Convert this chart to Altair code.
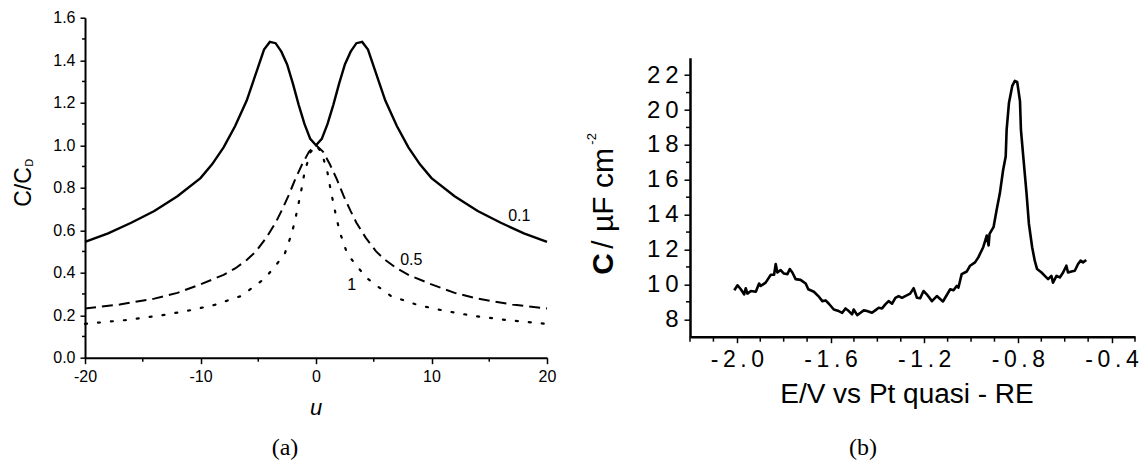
import altair as alt
import pandas as pd

FONT = "Liberation Sans"

# ---------------- panel (a): C/C_D versus u ----------------
u_01 = [-20, -18, -16, -14, -12, -10, -9, -8, -7, -6, -5.5, -5, -4.5, -4, -3.5, -3, -2.5, -2, -1.5, -1, -0.5, 0,
        0.5, 1, 1.5, 2, 2.5, 3, 3.5, 4, 4.5, 5, 5.5, 6, 7, 8, 9, 10, 12, 14, 16, 18, 20]
c_01 = [0.545, 0.585, 0.635, 0.69, 0.76, 0.845, 0.91, 0.99, 1.09, 1.21, 1.29, 1.37, 1.45, 1.486, 1.48, 1.44, 1.38,
        1.29, 1.19, 1.10, 1.03, 1.0,
        1.03, 1.10, 1.19, 1.29, 1.38, 1.44, 1.48, 1.486, 1.45, 1.37, 1.29, 1.21, 1.09, 0.99, 0.91, 0.845, 0.76, 0.69,
        0.635, 0.585, 0.545]

u_05 = [-20, -17, -14, -12, -10, -8, -7, -6, -5.2, -4.3, -3.5, -3, -2.4, -1.8, -1.2, -0.6, 0,
        0.6, 1.2, 1.8, 2.4, 3, 3.5, 4.3, 5.2, 6, 7, 8, 10, 12, 14, 17, 20]
c_05 = [0.232, 0.25, 0.278, 0.305, 0.345, 0.39, 0.42, 0.46, 0.50, 0.565, 0.635, 0.69, 0.76, 0.84, 0.91, 0.97, 1.0,
        0.97, 0.91, 0.84, 0.76, 0.69, 0.635, 0.565, 0.50, 0.46, 0.42, 0.39, 0.345, 0.305, 0.278, 0.25, 0.232]

u_1 = [-20, -16.5, -13.5, -11, -8.8, -6.5, -5.1, -4.4, -3.4, -2.7, -2.1, -1.8, -1.3, -1, -0.5, 0,
       0.5, 1, 1.3, 1.8, 2.1, 2.7, 3.4, 4.4, 5.1, 6.5, 8.8, 11, 13.5, 16.5, 20]
c_1 = [0.159, 0.177, 0.198, 0.222, 0.248, 0.29, 0.345, 0.375, 0.44, 0.49, 0.585, 0.65, 0.78, 0.87, 0.965, 1.0,
       0.965, 0.87, 0.78, 0.65, 0.585, 0.49, 0.44, 0.375, 0.345, 0.29, 0.248, 0.222, 0.198, 0.177, 0.159]

curve_labels = ["0.1", "0.5", "1"]
label_u = [17.6, 8.25, 3.1]
label_c = [0.667, 0.46, 0.342]

x_major_a = [-20, -10, 0, 10, 20]
x_minor_a = [-15, -5, 5, 15]
y_major_a = [0.0, 0.2, 0.4, 0.6, 0.8, 1.0, 1.2, 1.4, 1.6]
y_minor_a = [0.1, 0.3, 0.5, 0.7, 0.9, 1.1, 1.3, 1.5]

# ---------------- panel (b): measured capacitance ----------------
E = [-2.011, -1.997, -1.983, -1.969, -1.962, -1.955, -1.940, -1.919, -1.905, -1.898, -1.877, -1.855, -1.841,
     -1.834, -1.827, -1.813, -1.799, -1.784, -1.774, -1.763, -1.749, -1.728, -1.706, -1.695, -1.671, -1.652,
     -1.635, -1.621, -1.607, -1.586, -1.565, -1.550, -1.536, -1.522, -1.508, -1.501, -1.486, -1.472, -1.458,
     -1.444, -1.423, -1.409, -1.394, -1.380, -1.366, -1.352, -1.337, -1.323, -1.309, -1.295, -1.281, -1.260,
     -1.245, -1.231, -1.217, -1.203, -1.189, -1.167, -1.146, -1.120, -1.089, -1.075, -1.061, -1.054, -1.040,
     -1.018, -1.004, -0.983, -0.969, -0.948, -0.933, -0.925, -0.921, -0.904, -0.891, -0.877, -0.863, -0.852,
     -0.848, -0.838, -0.824, -0.813, -0.803, -0.791, -0.787, -0.777, -0.763, -0.753, -0.739, -0.728, -0.718,
     -0.699, -0.685, -0.671, -0.657, -0.650, -0.635, -0.621, -0.607, -0.593, -0.586, -0.571, -0.557, -0.543,
     -0.532, -0.522, -0.508]
C = [9.66, 9.95, 9.72, 9.43, 9.78, 9.47, 9.62, 9.58, 10.05, 9.91, 10.10, 10.55, 10.55,
     11.17, 10.68, 10.82, 10.62, 10.59, 10.88, 10.68, 10.30, 10.26, 10.05, 9.72, 9.58, 9.33,
     9.04, 9.08, 8.89, 8.56, 8.47, 8.37, 8.62, 8.47, 8.28, 8.56, 8.24, 8.37, 8.51,
     8.47, 8.37, 8.51, 8.66, 8.62, 8.85, 9.04, 8.89, 9.23, 9.33, 9.23, 9.33, 9.47,
     9.78, 9.23, 9.20, 9.62, 9.43, 9.04, 9.33, 9.02, 9.72, 9.66, 9.91, 9.81, 10.59,
     10.74, 11.07, 11.26, 11.55, 12.13, 12.80, 12.23, 12.90, 13.28, 14.25, 15.22, 16.56, 17.33,
     18.88, 20.42, 21.38, 21.67, 21.61, 20.51, 18.88, 17.33, 15.22, 13.48, 12.13, 11.36, 10.88,
     10.68, 10.49, 10.30, 10.49, 10.10, 10.49, 10.40, 10.68, 11.07, 10.68, 10.74, 10.78, 11.17,
     11.36, 11.26, 11.40]

x_major_b = [-2.0, -1.6, -1.2, -0.8, -0.4]
x_minor_b = [-2.2, -2.1, -1.9, -1.8, -1.7, -1.5, -1.4, -1.3, -1.1, -1.0, -0.9, -0.7, -0.6, -0.5, -0.3]
y_major_b = [8, 10, 12, 14, 16, 18, 20, 22]
y_minor_b = [9, 11, 13, 15, 17, 19, 21]

# ---------------- build tables ----------------
rows = []
for name, us, cs in (("0.1", u_01, c_01), ("0.5", u_05, c_05), ("1", u_1, c_1)):
    for i, (u, c) in enumerate(zip(us, cs)):
        rows.append({"s": name, "i": i, "u": u, "c": c})
df_a = pd.DataFrame(rows)
df_lab = pd.DataFrame({"t": curve_labels, "u": label_u, "c": label_c})
df_b = pd.DataFrame({"i": list(range(len(E))), "E": E, "C": C})
one = pd.DataFrame({"z": [0]})

LW, LH = 462, 340
RW, RH = 445, 279

MINUS = "\u2212"
THIN = "\u2009"


def lab_expr(fmt, spaced=False):
    base = f"replace(format(datum.value,'{fmt}'),'{MINUS}','-')"
    if spaced:
        return f"join(split({base},''),'{THIN}')"
    return base


def text_at(txt, x, y, size, **kw):
    return alt.Chart(one).mark_text(text=txt, font=kw.pop("font", FONT), fontSize=size, color="black",
                                    baseline="alphabetic", **kw).encode(x=alt.value(x), y=alt.value(y))


# ---------------- panel (a) ----------------
xs_a = alt.Scale(domain=[-20, 20], nice=False, zero=False)
ys_a = alt.Scale(domain=[0, 1.6], nice=False)

ax_x_a = alt.Axis(values=x_major_a, labelExpr=lab_expr("d"), title=None, tickSize=6, tickWidth=1.5,
                  domainWidth=2, labelFontSize=16, labelFont=FONT, labelPadding=5, grid=False,
                  labelFlush=False, labelOverlap=False)
ax_y_a = alt.Axis(values=y_major_a, labelExpr=lab_expr(".1f"), title=None, tickSize=5, tickWidth=1.5,
                  domainWidth=2, labelFontSize=16, labelFont=FONT, labelPadding=5, grid=False,
                  labelFlush=False, labelOverlap=False)


def curve(name, **kw):
    return alt.Chart(df_a).transform_filter(alt.datum.s == name).mark_line(
        color="black", **kw).encode(
        x=alt.X("u:Q", scale=xs_a, axis=ax_x_a),
        y=alt.Y("c:Q", scale=ys_a, axis=ax_y_a),
        order="i:Q")


minor_xa = alt.Chart(pd.DataFrame({"v": x_minor_a})).mark_rule(color="black", strokeWidth=1.5).encode(
    x=alt.X("v:Q", scale=xs_a, axis=ax_x_a), y=alt.value(LH), y2=alt.value(LH + 4))
minor_ya = alt.Chart(pd.DataFrame({"v": y_minor_a})).mark_rule(color="black", strokeWidth=1.5).encode(
    y=alt.Y("v:Q", scale=ys_a, axis=ax_y_a), x=alt.value(0), x2=alt.value(-3))

labels_a = alt.Chart(df_lab).mark_text(font=FONT, fontSize=16, color="black").encode(
    x=alt.X("u:Q", scale=xs_a, axis=ax_x_a), y=alt.Y("c:Q", scale=ys_a, axis=ax_y_a), text="t:N")

left = alt.layer(
    curve("0.1", strokeWidth=2.4),
    curve("0.5", strokeWidth=2, strokeDash=[11, 6]),
    curve("1", strokeWidth=2.2, strokeDash=[2, 11], strokeCap="round"),
    minor_xa, minor_ya, labels_a,
    text_at("C/C", -53.7, 169.3, 23, angle=270, align="center"),
    text_at("D", -51.7, 149.0, 11, angle=270, align="left"),
    text_at("u", 231, 397, 22, fontStyle="italic", align="center"),
    text_at("(a)", 200, 437, 24, font="Liberation Serif", align="center"),
).properties(width=LW, height=LH)

# ---------------- panel (b) ----------------
xs_b = alt.Scale(domain=[-2.2, -0.3], nice=False, zero=False)
ys_b = alt.Scale(domain=[7, 23], nice=False, zero=False)

ax_x_b = alt.Axis(values=x_major_b, labelExpr=lab_expr(".1f", True), title=None, tickSize=6, tickWidth=1.5,
                  domainWidth=2.5, labelFontSize=23, labelFont=FONT, labelPadding=6, grid=False,
                  labelFlush=False, labelOverlap=False)
ax_y_b = alt.Axis(values=y_major_b, labelExpr=lab_expr("d", True), title=None, tickSize=6, tickWidth=1.5,
                  domainWidth=2.5, labelFontSize=24, labelFont=FONT, labelPadding=6, grid=False,
                  labelFlush=False, labelOverlap=False)

line_b = alt.Chart(df_b).mark_line(color="black", strokeWidth=2.6, strokeJoin="round").encode(
    x=alt.X("E:Q", scale=xs_b, axis=ax_x_b),
    y=alt.Y("C:Q", scale=ys_b, axis=ax_y_b),
    order="i:Q")
minor_xb = alt.Chart(pd.DataFrame({"v": x_minor_b})).mark_rule(color="black", strokeWidth=1.5).encode(
    x=alt.X("v:Q", scale=xs_b, axis=ax_x_b), y=alt.value(RH), y2=alt.value(RH + 5))
minor_yb = alt.Chart(pd.DataFrame({"v": y_minor_b})).mark_rule(color="black", strokeWidth=1.5).encode(
    y=alt.Y("v:Q", scale=ys_b, axis=ax_y_b), x=alt.value(0), x2=alt.value(-4))

right = alt.layer(
    line_b, minor_xb, minor_yb,
    text_at("C", -77, 217, 30, fontWeight="bold", angle=270, align="left"),
    text_at("/ \u00b5F cm", -77, 191, 30, angle=270, align="left"),
    text_at("-2", -94, 87, 13, angle=270, align="left"),
    text_at("E/V vs Pt quasi - RE", 217, 345, 28, align="center"),
    text_at("(b)", 173, 397, 24, font="Liberation Serif", align="center"),
).properties(width=RW, height=RH)

spacer = alt.Chart(one).mark_point(opacity=0, size=1).encode(x=alt.value(0), y=alt.value(0)).properties(
    width=RW, height=40)

chart = alt.hconcat(left, alt.vconcat(spacer, right, spacing=0), spacing=30).properties(
    padding={"left": 5, "top": 1.7, "right": 0, "bottom": 0}
).configure_view(stroke=None).configure_axis(
    domainColor="black", tickColor="black", labelColor="black")

chart.save("out.html", embed_options={"renderer": "svg", "actions": False})
